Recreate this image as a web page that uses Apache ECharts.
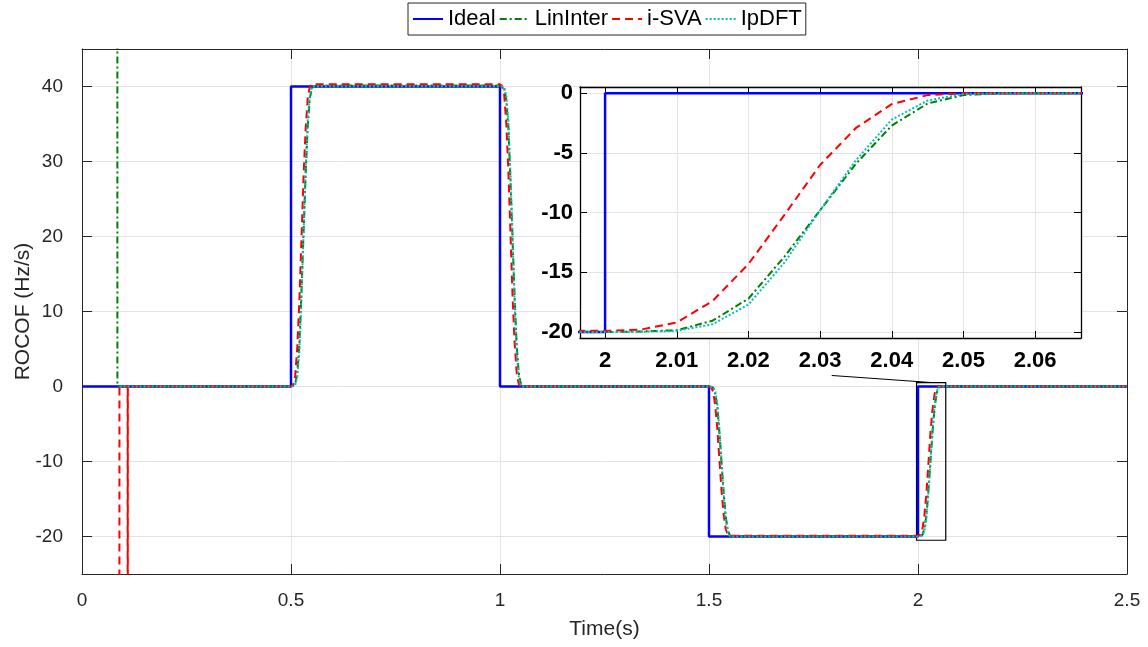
<!DOCTYPE html>
<html>
<head>
<meta charset="utf-8">
<script src="https://cdn.jsdelivr.net/npm/echarts@6/dist/echarts.min.js"></script>
<style>
  html, body { margin: 0; padding: 0; background: #fff; }
  #chart { width: 1148px; height: 647px; }
</style>
</head>
<body>
<div id="chart"></div>
<script>
// ideal ROCOF steps
var idealT = [0, 0.5, 0.5, 1, 1, 1.5, 1.5, 2, 2, 2.5];
var idealV = [0, 0, 40, 40, 0, 0, -20, -20, 0, 0];

// sample times around each step (estimator output every 5 ms)
var rise1T = [0.5, 0.505, 0.51, 0.515, 0.52, 0.525, 0.53, 0.535, 0.54, 0.545, 0.55, 0.555];
var fall1T = [1.0, 1.005, 1.01, 1.015, 1.02, 1.025, 1.03, 1.035, 1.04, 1.045, 1.05, 1.055];
var fall2T = [1.5, 1.505, 1.51, 1.515, 1.52, 1.525, 1.53, 1.535, 1.54, 1.545, 1.55, 1.555];
var rise2T = [2.0, 2.005, 2.01, 2.015, 2.02, 2.025, 2.03, 2.035, 2.04, 2.045, 2.05, 2.055];
var endT = 2.5;

// LinInter
var linHeadT = [0.0845, 0.0847];
var linHeadV = [100, 0];
var linRise1 = [0, 0.1, 0.3, 1.9, 5.6, 12.6, 20.5, 28.3, 34.7, 38.4, 39.8, 40.13];
var linFall1 = [40.13, 40.0, 39.8, 38.2, 34.5, 27.5, 19.7, 11.8, 5.4, 1.7, 0.3, 0];
var linFall2 = [0, -0.05, -0.15, -0.95, -2.8, -6.3, -10.2, -14.1, -17.3, -19.15, -19.85, -20];
var linRise2 = [-20, -19.95, -19.85, -19.05, -17.2, -13.7, -9.8, -5.9, -2.7, -0.85, -0.15, 0];

// i-SVA
var svaHeadT = [0.0893, 0.0896, 0.1092, 0.1094, 0.1097];
var svaHeadV = [-100, 0, 0, -100, 0];
var svaRise1 = [0, 0.2, 1.4, 5.2, 11.4, 19.6, 28.0, 34.3, 38.4, 40.0, 40.3, 40.3];
var svaFall1 = [40.3, 40.1, 38.9, 35.1, 28.8, 20.6, 12.1, 5.8, 1.8, 0.3, 0, 0];
var svaFall2 = [0, -0.1, -0.7, -2.6, -5.7, -9.8, -13.9, -17.0, -19.0, -19.75, -19.9, -19.9];
var svaRise2 = [-19.9, -19.8, -19.2, -17.4, -14.3, -10.2, -6.0, -2.9, -0.9, -0.15, 0, 0];

// IpDFT
var dftHeadT = [0.09];
var dftHeadV = [0];
var dftRise1 = [0, 0.04, 0.2, 1.3, 4.6, 11.6, 20.4, 28.8, 35.6, 38.8, 39.95, 40.05];
var dftFall1 = [40.05, 40.0, 39.85, 38.75, 35.45, 28.45, 19.6, 11.2, 4.4, 1.2, 0.1, 0];
var dftFall2 = [0, -0.02, -0.1, -0.65, -2.3, -5.8, -10.2, -14.4, -17.8, -19.4, -19.95, -20];
var dftRise2 = [-20, -19.98, -19.9, -19.35, -17.7, -14.2, -9.8, -5.6, -2.2, -0.6, -0.05, 0];

// zoom box (main axes) and connector
var zoomX = [1.9965, 2.0664];
var zoomY = [-20.5, 0.53];
var linkFrom = [1.7935, 1.47];
var linkTo = [2.0315, 0.53];

function pairs(t, v) {
  var out = [];
  for (var i = 0; i < t.length; i++) out.push([t[i], v[i]]);
  return out;
}
function estimator(headT, headV, r1, f1, f2, r2) {
  return [].concat(pairs(headT, headV), pairs(rise1T, r1), pairs(fall1T, f1),
    pairs(fall2T, f2), pairs(rise2T, r2), [[endT, 0]]);
}

var idealData = pairs(idealT, idealV);
var linData = estimator(linHeadT, linHeadV, linRise1, linFall1, linFall2, linRise2);
var svaData = estimator(svaHeadT, svaHeadV, svaRise1, svaFall1, svaFall2, svaRise2);
var dftData = estimator(dftHeadT, dftHeadV, dftRise1, dftFall1, dftFall2, dftRise2);

var font = 'Liberation Sans, Arial, sans-serif';
var axisCol = '#262626';
var gridCol = '#e3e3e3';

var styles = [
  { name: 'Ideal', data: idealData, color: '#0000ff', type: 'solid', width: 2.5 },
  { name: 'LinInter', data: linData, color: '#008000', type: [7, 3, 2, 3], width: 2 },
  { name: 'i-SVA', data: svaData, color: '#ff0000', type: [8, 5], width: 2 },
  { name: 'IpDFT', data: dftData, color: '#00bfbf', type: [2, 2], width: 2 }
];

var series = [];
styles.forEach(function (s, i) {
  var main = {
    name: s.name, type: 'line', data: s.data, xAxisIndex: 0, yAxisIndex: 0,
    showSymbol: false, symbol: 'none', animation: false,
    lineStyle: { color: s.color, type: s.type, width: s.width },
    itemStyle: { color: s.color }
  };
  if (i === 0) {
    main.markArea = {
      silent: true,
      itemStyle: { color: 'rgba(0,0,0,0)', borderColor: '#000', borderWidth: 1.2 },
      data: [[{ coord: [zoomX[0], zoomY[1]] }, { coord: [zoomX[1], zoomY[0]] }]]
    };
    main.markLine = {
      silent: true, symbol: ['none', 'none'],
      label: { show: false },
      lineStyle: { color: '#000', type: 'solid', width: 1 },
      data: [[{ coord: linkFrom }, { coord: linkTo }]]
    };
  }
  series.push(main);
});
styles.forEach(function (s) {
  series.push({
    name: s.name, type: 'line', data: s.data, xAxisIndex: 2, yAxisIndex: 2, zlevel: 1,
    showSymbol: false, symbol: 'none', animation: false,
    lineStyle: { color: s.color, type: s.type, width: s.width },
    itemStyle: { color: s.color }
  });
});

var mainLabel = { fontFamily: font, fontSize: 19, color: axisCol };
var insetLabel = { fontFamily: font, fontSize: 22, fontWeight: 'bold', color: '#000' };

function mainLine() {
  return { show: true, onZero: false, lineStyle: { color: axisCol } };
}
function insetLine() {
  return { show: true, onZero: false, lineStyle: { color: '#000', width: 1.3 } };
}

var option = {
  backgroundColor: '#fff',
  animation: false,
  legend: {
    data: ['Ideal', 'LinInter', 'i-SVA', 'IpDFT'],
    left: 408, top: 3,
    padding: [5, 4, 5, 4],
    itemGap: 3, itemWidth: 30, itemHeight: 14,
    itemStyle: { opacity: 0 },
    borderColor: axisCol, borderWidth: 1, backgroundColor: '#fff',
    textStyle: { fontFamily: font, fontSize: 22, color: '#000' }
  },
  grid: [
    { left: 82, top: 49, width: 1045, height: 525, containLabel: false, outerBoundsMode: 'none' },
    { left: 580, top: 87, width: 501, height: 251, show: true, backgroundColor: '#fff', borderWidth: 0, zlevel: 1,
      containLabel: false, outerBoundsMode: 'none' }
  ],
  xAxis: [
    {
      type: 'value', gridIndex: 0, min: 0, max: 2.5, interval: 0.5,
      name: 'Time(s)', nameLocation: 'middle', nameGap: 45,
      nameTextStyle: { fontFamily: font, fontSize: 21, color: axisCol },
      axisLine: mainLine(),
      axisTick: { show: true, inside: true, length: 10, lineStyle: { color: axisCol } },
      axisLabel: Object.assign({ margin: 17 }, mainLabel),
      splitLine: { show: true, lineStyle: { color: gridCol } }
    },
    {
      type: 'value', gridIndex: 0, position: 'top', min: 0, max: 2.5, interval: 0.5,
      axisLine: mainLine(),
      axisTick: { show: true, inside: true, length: 10, lineStyle: { color: axisCol } },
      axisLabel: { show: false }, splitLine: { show: false }
    },
    {
      type: 'value', gridIndex: 1, min: zoomX[0], max: zoomX[1], splitNumber: 7, zlevel: 1,
      axisLine: insetLine(),
      axisTick: { show: true, inside: true, length: 7, lineStyle: { color: '#000' } },
      axisLabel: Object.assign({ margin: 12, showMinLabel: false, showMaxLabel: false }, insetLabel),
      splitLine: { show: true, lineStyle: { color: gridCol } }
    },
    {
      type: 'value', gridIndex: 1, position: 'top', min: zoomX[0], max: zoomX[1], splitNumber: 7, zlevel: 1,
      axisLine: insetLine(),
      axisTick: { show: true, inside: true, length: 7, lineStyle: { color: '#000' } },
      axisLabel: { show: false }, splitLine: { show: false }
    }
  ],
  yAxis: [
    {
      type: 'value', gridIndex: 0, min: -25, max: 45, splitNumber: 7,
      name: 'ROCOF (Hz/s)', nameLocation: 'middle', nameGap: 48, nameMoveOverlap: false,
      nameTextStyle: { fontFamily: font, fontSize: 21, color: axisCol },
      axisLine: mainLine(),
      axisTick: { show: true, inside: true, length: 10, lineStyle: { color: axisCol } },
      axisLabel: Object.assign({ margin: 19, showMinLabel: false, showMaxLabel: false }, mainLabel),
      splitLine: { show: true, lineStyle: { color: gridCol } }
    },
    {
      type: 'value', gridIndex: 0, position: 'right', min: -25, max: 45, splitNumber: 7,
      axisLine: mainLine(),
      axisTick: { show: true, inside: true, length: 10, lineStyle: { color: axisCol } },
      axisLabel: { show: false }, splitLine: { show: false }
    },
    {
      type: 'value', gridIndex: 1, min: zoomY[0], max: zoomY[1], splitNumber: 4, zlevel: 1,
      axisLine: insetLine(),
      axisTick: { show: true, inside: true, length: 7, lineStyle: { color: '#000' } },
      axisLabel: Object.assign({ margin: 7, showMinLabel: false, showMaxLabel: false }, insetLabel),
      splitLine: { show: true, lineStyle: { color: gridCol } }
    },
    {
      type: 'value', gridIndex: 1, position: 'right', min: zoomY[0], max: zoomY[1], splitNumber: 4, zlevel: 1,
      axisLine: insetLine(),
      axisTick: { show: true, inside: true, length: 7, lineStyle: { color: '#000' } },
      axisLabel: { show: false }, splitLine: { show: false }
    }
  ],
  series: series
};

var chart = echarts.init(document.getElementById('chart'));
chart.setOption(option);
</script>
</body>
</html>
